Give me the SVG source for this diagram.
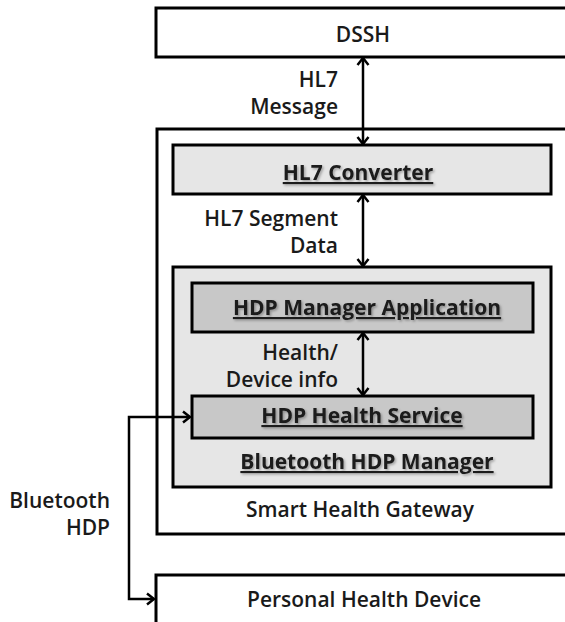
<svg xmlns="http://www.w3.org/2000/svg" width="565" height="622" viewBox="0 0 565 622">
<style>
.box{stroke:#000;stroke-width:3}
.white{fill:#fff}
.light{fill:#e6e6e6}
.dark{fill:#c8c8c8}
.t{font-family:"Open Sans","Noto Sans",sans-serif;font-size:21px;font-weight:600;fill:#1a1a1a}
.u{font-weight:700;text-decoration:underline;filter:url(#sh)}
.m{text-anchor:middle}
.e{text-anchor:end}
.c{fill:none;stroke:#000;stroke-width:2.5}
</style>
<defs>
<marker id="ah" markerUnits="userSpaceOnUse" viewBox="-10 -7 12 14" refX="0" refY="0" markerWidth="12" markerHeight="14" orient="auto-start-reverse">
<path d="M-7,-5.5 L0,0 L-7,5.5" fill="none" stroke="#000" stroke-width="2.5"/>
</marker>
<filter id="sh" x="-5%" y="-20%" width="110%" height="140%">
<feDropShadow dx="1.5" dy="1.5" stdDeviation="1" flood-color="#000" flood-opacity="0.3"/>
</filter>
</defs>
<g id="dssh"><rect class="box white" x="156" y="8" width="420" height="49"/><text class="t m" x="363" y="42">DSSH</text></g>
<g id="gateway"><rect class="box white" x="157" y="129" width="420" height="405"/><text class="t m" x="360" y="517">Smart Health Gateway</text></g>
<g id="hl7conv"><rect class="box light" x="173" y="145" width="378" height="49"/><text class="t u m" x="358" y="180">HL7 Converter</text></g>
<g id="bhm"><rect class="box light" x="173" y="267" width="378" height="220"/><text class="t u m" x="367" y="469">Bluetooth HDP Manager</text></g>
<g id="hdpapp"><rect class="box dark" x="192" y="283" width="341" height="49"/><text class="t u m" x="367" y="315">HDP Manager Application</text></g>
<g id="hdphs"><rect class="box dark" x="192" y="396" width="341" height="42"/><text class="t u m" x="362" y="423">HDP Health Service</text></g>
<g id="phd"><rect class="box white" x="156" y="575" width="420" height="60"/><text class="t m" x="364" y="607">Personal Health Device</text></g>
<g id="connectors">
<line class="c" x1="363" y1="58" x2="363" y2="144" marker-start="url(#ah)" marker-end="url(#ah)"/>
<line class="c" x1="363" y1="195" x2="363" y2="266" marker-start="url(#ah)" marker-end="url(#ah)"/>
<line class="c" x1="363" y1="333" x2="363" y2="395" marker-start="url(#ah)" marker-end="url(#ah)"/>
<path class="c" d="M190,417 H129 V599 H154" marker-start="url(#ah)" marker-end="url(#ah)"/>
<text class="t e" x="338" y="87">HL7</text>
<text class="t e" x="338" y="114">Message</text>
<text class="t e" x="338" y="226">HL7 Segment</text>
<text class="t e" x="338" y="253">Data</text>
<text class="t e" x="338" y="360">Health/</text>
<text class="t e" x="338" y="387">Device info</text>
<text class="t e" x="110" y="508">Bluetooth</text>
<text class="t e" x="110" y="535">HDP</text>
</g>
</svg>
